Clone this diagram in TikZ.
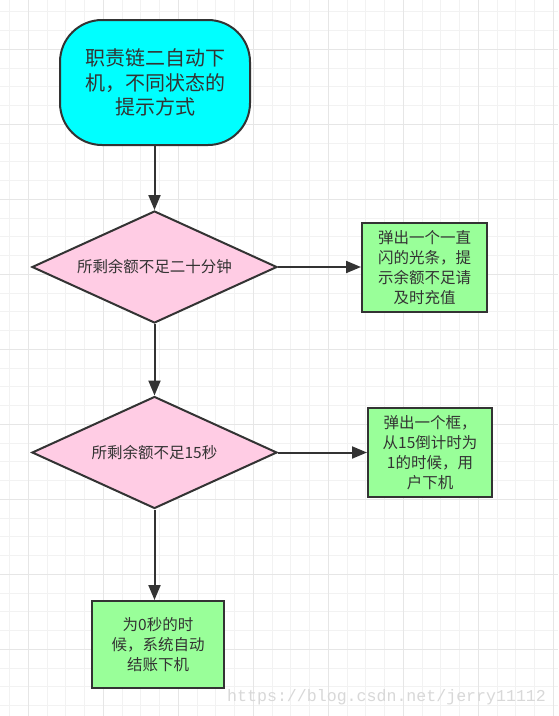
\documentclass[tikz,border=0pt]{standalone}
\usepackage{fontspec}
\setmainfont{Noto Sans CJK SC}
\newfontfamily\wmfont{Liberation Mono}
\usetikzlibrary{shapes.geometric,arrows.meta}
\definecolor{edgec}{HTML}{333333}
\definecolor{txtc}{HTML}{333333}
\definecolor{cyanf}{HTML}{00FFFF}
\definecolor{pinkf}{HTML}{FFCCE4}
\definecolor{greenf}{HTML}{99FF99}
\definecolor{gridminor}{HTML}{F2F2F2}
\definecolor{gridmajor}{HTML}{E6E6E6}
\definecolor{wmc}{HTML}{D8D8D8}
\tikzset{
  base/.style={draw=edgec, line width=2pt, text=txtc, align=center, inner sep=0pt},
  startbox/.style={base, fill=cyanf, rectangle, rounded corners=42pt, minimum width=190pt, minimum height=125pt, font=\fontsize{20}{24.5}\selectfont},
  decision/.style={base, fill=pinkf, diamond, shape aspect=2.19, minimum width=245pt, minimum height=112pt, font=\fontsize{15.5}{20}\selectfont},
  actionbox/.style={base, fill=greenf, rectangle, minimum height=89pt, font=\fontsize{15.5}{20}\selectfont},
  arr/.style={draw=edgec, line width=2pt, -{Triangle[length=15pt,width=12pt]}},
  gminor/.style={draw=gridminor, line width=1pt},
  gmajor/.style={draw=gridmajor, line width=1.4pt}
}
\begin{document}
\begin{tikzpicture}[x=1pt,y=-1pt]
\useasboundingbox (0,0) rectangle (558,716);
\fill[white] (0,0) rectangle (558,716);
% grid
\foreach \i in {0,...,29} { \draw[gminor] (9.58+18.75*\i,0) -- (9.58+18.75*\i,716); }
\foreach \i in {0,...,37} { \draw[gminor] (0,11.8+18.75*\i) -- (558,11.8+18.75*\i); }
\foreach \i in {0,...,7} { \draw[gmajor] (28.33+75*\i,0) -- (28.33+75*\i,716); }
\foreach \i in {0,...,9} { \draw[gmajor] (0,49.3+75*\i) -- (558,49.3+75*\i); }
% nodes
\node[startbox] (start) at (155,82.5) {职责链二自动下\\机，不同状态的\\提示方式};
\node[decision] (d1) at (154.5,267) {所剩余额不足二十分钟};
\node[actionbox, minimum width=125pt] (b1) at (424.5,267.5) {弹出一个一直\\闪的光条，提\\示余额不足请\\及时充值};
\node[decision] (d2) at (154.5,452.5) {所剩余额不足15秒};
\node[actionbox, minimum width=124pt] (b2) at (430,452.5) {弹出一个框，\\从15倒计时为\\1的时候，用\\户下机};
\node[actionbox, minimum width=132pt, minimum height=87pt] (b3) at (158,644.5) {为0秒的时\\候，系统自动\\结账下机};
\node[anchor=base west, text=wmc, font=\wmfont\fontsize{16.6}{18}\selectfont, inner sep=0pt] (wm) at (227,701) {https://blog.csdn.net/jerry11112};
% connectors
\draw[arr] (start.south -| d1.north) -- (d1.north);
\draw[arr] (d1.east) -- (d1.east -| b1.west);
\draw[arr] (d1.south) -- (d2.north);
\draw[arr] (d2.east) -- (d2.east -| b2.west);
\draw[arr] (d2.south) -- (d2.south |- b3.north);
\end{tikzpicture}
\end{document}
